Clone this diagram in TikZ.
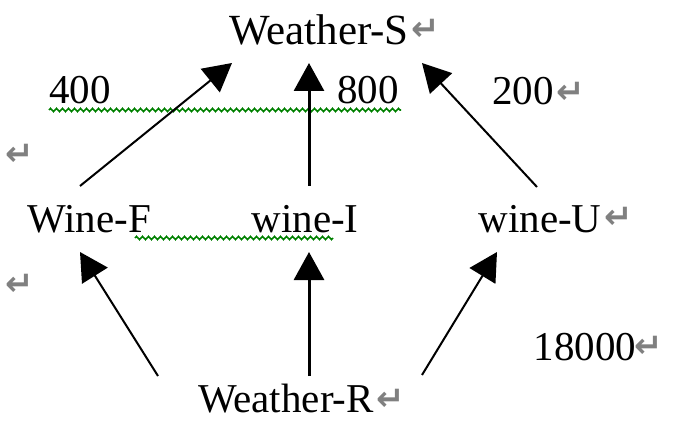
\documentclass[tikz,border=0pt]{standalone}
\usepackage{fontspec}
\setmainfont{Liberation Serif}
\newfontfamily\symfont{DejaVu Sans}
\usetikzlibrary{arrows.meta,decorations.pathmorphing}
\definecolor{markgray}{RGB}{128,128,128}
\definecolor{wavegreen}{RGB}{0,128,0}
\tikzset{
  lbl/.style={inner sep=0pt, anchor=base, text depth=0pt, font=\fontsize{41}{41}\selectfont},
  ret/.style={inner sep=0pt, text=markgray, font=\symfont\bfseries\fontsize{34}{34}\selectfont},
  link/.style={line width=2pt, -{Triangle[length=28pt,width=30pt]}},
  vlink/.style={line width=3pt, -{Triangle[length=28pt,width=30pt]}},
  wave/.style={draw=wavegreen, line width=1.6pt,
    decorate, decoration={zigzag, segment length=6pt, amplitude=1.6pt}}
}
\begin{document}
\begin{tikzpicture}[x=1pt,y=-1pt]
\useasboundingbox (0,0) rectangle (696,422);

% grammar-check underlines
\draw[wave] (49,110) -- (401,110);
\draw[wave] (135,238) -- (333,238);

% labels
\node[lbl] (weatherS) at (319,45) {\fontsize{43}{43}\selectfont Weather-S};
\node[lbl] (n400) at (80,104) {400};
\node[lbl] (n800) at (368,104) {800};
\node[lbl] (n200) at (523,105) {200};
\node[lbl] (wineF) at (89,233) {Wine-F};
\node[lbl] (wineI) at (305,233) {wine-I};
\node[lbl] (wineU) at (540,233) {wine-U};
\node[lbl] (n18000) at (585,360) {18000};
\node[lbl] (weatherR) at (286,412) {Weather-R};

% paragraph marks
\node[ret] (r1) at (426,30) {↵};
\node[ret] (r2) at (571,93) {↵};
\node[ret] (r3) at (20,155) {↵};
\node[ret] (r4) at (619,218) {↵};
\node[ret] (r5) at (20,285) {↵};
\node[ret] (r6) at (649,347) {↵};
\node[ret] (r7) at (391,400) {↵};

% connector end points
\coordinate (F-top) at (80,186);
\coordinate (I-top) at (309,186);
\coordinate (U-top) at (537,187);
\coordinate (S-left) at (232,63);
\coordinate (S-mid) at (309,63);
\coordinate (S-right) at (422,63);
\coordinate (R-left) at (158,376);
\coordinate (R-mid) at (309,376);
\coordinate (R-right) at (422,375);
\coordinate (F-bot) at (80,252);
\coordinate (I-bot) at (309,252);
\coordinate (U-bot) at (497,252);

% arrows
\draw[link] (F-top) -- (S-left);
\draw[vlink] (I-top) -- (S-mid);
\draw[link] (U-top) -- (S-right);
\draw[link] (R-left) -- (F-bot);
\draw[vlink] (R-mid) -- (I-bot);
\draw[link] (R-right) -- (U-bot);
\end{tikzpicture}
\end{document}
